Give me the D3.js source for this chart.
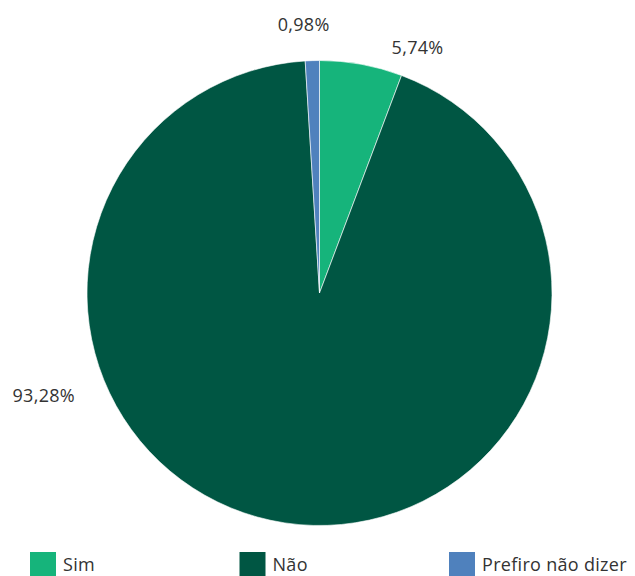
<!DOCTYPE html>
<html>
<head>
<meta charset="utf-8">
<script src="https://cdn.jsdelivr.net/npm/d3@7"></script>
<style>
  html, body { margin: 0; padding: 0; background: #fff; }
  svg { display: block; }
  text { font-family: "Open Sans", "Noto Sans", sans-serif; fill: #333; letter-spacing: 0.3px; }
</style>
</head>
<body>
<svg id="chart" width="635" height="576"></svg>
<script>
// Answer shares (%)
const categories = ["Sim", "Não", "Prefiro não dizer"];
const values = [5.74, 93.28, 0.98];
const colors = ["#16b47b", "#005643", "#4f81bd"];

const width = 635, height = 576;
const cx = 319.5, cy = 293, radius = 232.5;

// Label anchors: angle (rad, clockwise from top) and distance from centre
const labelAngles = [0.379, 4.358, -0.059];
const labelRadii = [265, 294, 269];

const svg = d3.select("#chart");
const g = svg.append("g").attr("transform", `translate(${cx},${cy})`);

const data = categories.map((c, i) => ({ name: c, value: values[i], color: colors[i], i }));

const pie = d3.pie().value(d => d.value).sort(null);
const arc = d3.arc().innerRadius(0).outerRadius(radius);
const arcs = pie(data);

g.selectAll("path.slice")
  .data(arcs)
  .join("path")
  .attr("class", "slice")
  .attr("d", arc)
  .attr("fill", d => d.data.color)
  .attr("stroke", "#fff")
  .attr("stroke-width", 0.6);

const fmt = v => v.toFixed(2).replace(".", ",") + "%";

g.selectAll("text.lbl")
  .data(arcs)
  .join("text")
  .attr("class", "lbl")
  .attr("x", d => Math.sin(labelAngles[d.data.i]) * labelRadii[d.data.i])
  .attr("y", d => -Math.cos(labelAngles[d.data.i]) * labelRadii[d.data.i])
  .attr("text-anchor", "middle")
  .attr("dominant-baseline", "central")
  .attr("font-size", 18)
  .text(d => fmt(d.data.value));

// Legend
const legendX = d3.scalePoint().domain(categories).range([30, 449]);
const lg = svg.append("g");
const items = lg.selectAll("g.item").data(data).join("g")
  .attr("class", "item")
  .attr("transform", d => `translate(${legendX(d.name)},552)`);
items.append("rect").attr("width", 26).attr("height", 24).attr("fill", d => d.color);
items.append("text")
  .attr("x", 33).attr("y", 12)
  .attr("dominant-baseline", "central")
  .attr("font-size", 18)
  .text(d => d.name);
</script>
</body>
</html>
